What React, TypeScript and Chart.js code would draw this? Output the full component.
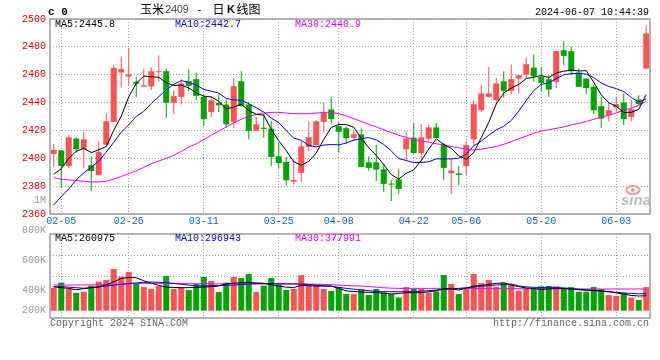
import React, { useEffect, useRef } from 'react';
import { Chart, registerables } from 'chart.js';

Chart.register(...registerables);

// ---------------- data ----------------
const dates = ['02-02','02-05','02-06','02-07','02-08','02-19','02-20','02-21','02-22','02-23','02-26','02-27','02-28','02-29','03-01','03-04','03-05','03-06','03-07','03-08','03-11','03-12','03-13','03-14','03-15','03-18','03-19','03-20','03-21','03-22','03-25','03-26','03-27','03-28','03-29','04-01','04-02','04-03','04-08','04-09','04-10','04-11','04-12','04-15','04-16','04-17','04-18','04-19','04-22','04-23','04-24','04-25','04-26','04-29','04-30','05-06','05-07','05-08','05-09','05-10','05-13','05-14','05-15','05-16','05-17','05-20','05-21','05-22','05-23','05-24','05-27','05-28','05-29','05-30','05-31','06-03','06-04','06-05','06-06','06-07'];

const tickDates = ['02-05','02-26','03-11','03-25','04-08','04-22','05-06','05-20','06-03'];

const open = [2403.1,2405.7,2394.5,2414.1,2406.5,2395.0,2387.9,2409.8,2426.1,2461.6,2458.7,2455.0,2451.5,2451.6,2461.8,2462.5,2439.8,2444.1,2455.3,2456.8,2444.1,2433.3,2439.8,2438.6,2426.1,2455.3,2438.6,2419.7,2422.0,2421.3,2401.4,2397.4,2383.2,2389.5,2408.1,2409.4,2426.1,2435.0,2423.0,2421.6,2414.8,2417.2,2397.1,2397.1,2392.1,2381.8,2384.9,2406.5,2414.8,2403.8,2414.1,2422.2,2409.8,2389.3,2389.0,2394.3,2413.6,2434.5,2444.1,2441.7,2455.3,2448.4,2457.2,2460.1,2465.1,2458.4,2456.8,2454.9,2477.6,2476.9,2461.6,2457.2,2451.3,2437.4,2430.9,2436.4,2440.0,2429.7,2442.2,2464.4];
const high = [2410.5,2406.0,2416.5,2415.1,2418.9,2401.4,2412.2,2432.3,2466.8,2472.8,2479.3,2458.5,2464.2,2465.5,2473.8,2464.4,2448.9,2456.8,2464.0,2461.6,2445.8,2444.6,2446.0,2442.2,2457.7,2462.5,2440.0,2429.7,2431.9,2426.6,2411.0,2401.0,2399.3,2412.2,2426.6,2427.3,2440.0,2444.1,2426.0,2423.0,2420.1,2421.3,2401.4,2409.8,2396.1,2384.2,2392.1,2419.4,2425.4,2424.4,2424.2,2425.4,2411.0,2399.6,2394.3,2412.2,2441.7,2452.5,2465.6,2457.7,2462.5,2467.3,2460.0,2472.1,2474.7,2465.1,2459.6,2477.0,2484.1,2480.0,2464.4,2457.5,2452.5,2444.1,2440.0,2444.1,2446.5,2441.7,2445.3,2495.6];
const low = [2393.8,2378.7,2393.1,2404.1,2393.1,2376.5,2387.9,2409.4,2426.0,2451.3,2452.3,2444.0,2451.3,2449.0,2454.6,2429.0,2431.6,2438.6,2448.0,2441.7,2423.2,2429.7,2433.3,2421.8,2421.8,2436.9,2413.6,2419.7,2414.6,2394.5,2392.6,2380.6,2381.1,2383.0,2405.0,2409.4,2418.5,2425.0,2404.0,2410.0,2412.2,2393.8,2391.0,2383.7,2375.8,2369.4,2374.6,2398.6,2403.3,2397.4,2412.2,2414.6,2384.2,2374.5,2380.6,2388.2,2408.9,2433.3,2443.4,2438.8,2443.6,2446.0,2446.5,2457.2,2454.9,2448.1,2444.1,2450.5,2466.8,2459.6,2451.3,2446.0,2431.6,2421.8,2426.8,2433.3,2423.7,2426.6,2438.1,2464.4];
const close = [2406.0,2394.5,2415.1,2406.5,2413.6,2390.9,2404.6,2426.6,2464.9,2464.0,2460.2,2453.5,2452.5,2462.5,2462.3,2439.8,2444.6,2453.7,2452.0,2444.8,2428.1,2441.7,2438.1,2424.4,2451.7,2437.6,2419.7,2424.4,2421.1,2401.0,2396.6,2384.2,2384.4,2408.6,2415.1,2426.6,2432.8,2428.1,2419.0,2414.4,2417.2,2393.8,2393.1,2391.9,2381.6,2381.1,2378.0,2414.1,2403.8,2415.1,2422.2,2414.6,2393.1,2391.2,2388.0,2409.4,2438.8,2446.5,2446.5,2453.7,2448.4,2456.8,2459.6,2467.5,2458.9,2454.1,2449.3,2476.9,2473.5,2462.5,2451.3,2450.5,2434.5,2428.5,2434.5,2438.8,2428.1,2435.2,2438.8,2489.6];

const ma5 = [2388.5,2392.5,2400.0,2405.0,2407.1,2404.1,2406.1,2408.4,2420.1,2430.2,2444.1,2453.8,2459.0,2458.5,2458.2,2454.1,2452.3,2452.6,2450.5,2447.0,2444.6,2444.1,2440.9,2435.4,2436.8,2438.7,2434.3,2431.6,2430.9,2420.8,2412.6,2405.5,2397.5,2395.0,2397.8,2403.8,2413.5,2422.2,2424.3,2424.2,2422.3,2414.5,2407.5,2402.1,2395.5,2388.3,2385.1,2389.3,2391.7,2398.4,2406.6,2414.0,2409.8,2407.2,2401.8,2399.3,2404.1,2414.8,2425.8,2439.0,2446.8,2450.4,2453.0,2457.2,2458.2,2459.4,2457.9,2461.3,2462.5,2463.3,2462.7,2462.9,2454.5,2445.5,2439.9,2437.4,2432.9,2433.0,2435.1,2445.8];
const ma10 = [2366.5,2372.5,2378.0,2384.5,2389.5,2393.5,2398.0,2404.5,2411.5,2418.7,2424.1,2430.0,2433.7,2439.3,2444.2,2449.1,2453.1,2455.8,2454.5,2452.6,2449.4,2448.2,2446.8,2443.0,2441.9,2441.7,2439.2,2436.3,2433.2,2428.8,2425.6,2419.9,2414.5,2412.9,2409.3,2408.2,2409.5,2409.9,2409.6,2411.0,2413.0,2414.0,2414.9,2413.2,2409.9,2405.3,2399.8,2398.4,2396.9,2397.0,2397.5,2399.6,2399.6,2399.5,2400.1,2403.0,2409.0,2412.3,2416.5,2420.4,2423.0,2427.2,2433.9,2441.5,2448.6,2453.1,2454.1,2457.2,2459.9,2460.8,2461.0,2460.4,2457.9,2454.0,2451.6,2450.0,2447.9,2443.7,2440.3,2442.7];
const ma30 = [2386,2385,2384.5,2384,2383.5,2383,2383,2383.5,2385,2387,2389,2391,2393.5,2396,2398,2400,2402,2405,2408,2410.5,2413.5,2416.5,2419.5,2422.5,2425.5,2428,2430,2431.5,2432.5,2433,2433,2432.5,2432,2432,2432,2432.5,2433,2433,2432,2430.5,2428.5,2426.5,2424.5,2422.5,2420.5,2418.5,2416.5,2415,2413.5,2412.5,2411.5,2410.5,2409.5,2408.5,2407.5,2406.5,2406,2406.5,2407.5,2408.5,2410,2412,2414,2416,2418,2419.5,2420.5,2421.5,2422.5,2424,2425,2426.5,2428,2429.5,2431,2432.5,2434.5,2436,2438,2440.9];

// volume, in thousands of lots
const volumeK = [401,488,378,308,331,436,505,534,726,592,674,476,412,378,430,604,378,412,360,465,587,517,325,488,587,569,639,325,436,569,459,360,378,621,436,441,378,343,412,290,290,372,273,378,319,290,227,412,378,383,314,337,621,465,290,378,639,482,534,418,482,459,348,389,383,424,430,424,401,412,331,331,412,378,273,256,314,227,186,412];
const vma5K = [418,400,389,365,385,400,415,450,505,560,580,575,520,480,440,410,405,400,402,405,412,420,430,470,480,488,490,485,476,450,430,410,405,440,435,430,428,430,389,345,335,325,320,315,305,292,300,314,314,314,330,348,385,380,360,395,430,440,460,475,488,445,420,395,385,372,380,389,385,377,365,355,350,340,331,310,290,265,256,260.975];
const vma10K = [418,418,410,400,392,400,415,430,445,460,472,485,495,499,495,488,476,460,445,432,432,437,440,444,447,455,465,472,476,474,470,468,466,465,455,445,435,425,405,389,375,362,350,335,331,331,331,331,331,340,348,360,370,380,389,400,412,425,438,447,456,465,430,415,406,406,406,406,395,385,375,365,355,345,331,320,310,300,295,296.943];
const vma30K = [447,447,447,448,449,450,452,455,460,465,470,474,476,476,476,475,474,473,472,471,470,469,468,468,467,467,466,466,466,465,465,465,465,465,464,462,458,452,445,438,433,430,420,410,400,392,389,389,389,389,389,389,388,388,387,387,386,386,385,385,384,384,383,383,382,382,381,381,380,380,379,379,379,378,378,378,378,378,378,377.991];

const volumeTickLabels = ['800K', '600K', '400K', '200K'];
const priceMin = 2360;
const priceMax = 2500;
const priceStep = 20;
const titleStamp = '2024-06-07 10:44:39';

// ---------------- styles ----------------
const RED = '#ff5252';
const GREEN = '#00a300';
const GRID = '#a0a0a0';
const FRAME = '#9c9c9c';
const MONO = '"Liberation Mono", "DejaVu Sans Mono", monospace';
const CJK = '"Noto Sans CJK SC", sans-serif';
const BLUE_LINE = '#0000ff';
const MAGENTA = '#ff00ff';

const candleColors = close.map((c, i) => (c >= open[i] ? RED : GREEN));

function dateTicks(scale: any) {
  scale.ticks = scale.ticks.filter((t: any) => tickDates.includes(dates[t.value]));
}

function txt(ctx: any, s: string, x: number, y: number, color: string, font: string, align = 'left') {
  ctx.fillStyle = color;
  ctx.font = font;
  ctx.textAlign = align;
  ctx.textBaseline = 'middle';
  ctx.fillText(s, x, y);
}

const framePlugin = {
  id: 'frame',
  afterDraw(chart: any) {
    const { ctx, chartArea: a } = chart;
    ctx.save();
    ctx.strokeStyle = FRAME;
    ctx.lineWidth = 1.5;
    ctx.strokeRect(a.left, a.top, a.right - a.left, a.bottom - a.top);
    ctx.restore();
  },
};

const priceTextPlugin = {
  id: 'priceText',
  afterDraw(chart: any) {
    const { ctx } = chart;
    const last = dates.length - 1;
    ctx.save();
    txt(ctx, 'c 0', 48, 12, '#000', `bold 11px ${MONO}`);
    txt(ctx, '玉米', 152, 9.5, '#000', `12px ${CJK}`, 'center');
    txt(ctx, '2409', 177, 10, '#444', `10.5px "Liberation Sans", sans-serif`, 'center');
    txt(ctx, '-', 199.5, 10, '#000', `10px ${MONO}`, 'center');
    txt(ctx, '日', 218.5, 9.5, '#000', `12px ${CJK}`, 'center');
    txt(ctx, 'K', 231, 10, '#000', `bold 11px "Liberation Sans", sans-serif`, 'center');
    txt(ctx, '线图', 248.5, 9.5, '#000', `12px ${CJK}`, 'center');
    txt(ctx, titleStamp, 649, 12, '#000', `10px ${MONO}`, 'right');
    txt(ctx, `MA5:${ma5[last].toFixed(1)}`, 55, 24, '#000', `10px ${MONO}`);
    txt(ctx, `MA10:${ma10[last].toFixed(1)}`, 175, 24, BLUE_LINE, `10px ${MONO}`);
    txt(ctx, `MA30:${ma30[last].toFixed(1)}`, 295, 24, MAGENTA, `10px ${MONO}`);
    txt(ctx, '1M', 46, 200, '#999', `10px ${MONO}`, 'right');
    // sina watermark
    ctx.strokeStyle = '#ef9a9a';
    ctx.lineWidth = 2;
    ctx.beginPath();
    ctx.ellipse(633, 190, 6.5, 4, 0, 0, Math.PI * 2);
    ctx.stroke();
    ctx.fillStyle = '#ef9a9a';
    ctx.beginPath();
    ctx.arc(633, 190, 2, 0, Math.PI * 2);
    ctx.fill();
    txt(ctx, 'sina', 636, 201, '#bdbdbd', `italic bold 15px "Liberation Sans", sans-serif`, 'center');
    ctx.restore();
  },
};

const volGridPlugin = {
  id: 'volGrid',
  beforeDatasetsDraw(chart: any) {
    const { ctx, chartArea: a } = chart;
    ctx.save();
    ctx.strokeStyle = GRID;
    ctx.lineWidth = 1;
    ctx.setLineDash([1, 2]);
    const h = a.bottom - a.top;
    for (let q = 1; q < 4; q++) {
      const y = Math.round(a.top + (h * q) / 4) + 0.5;
      ctx.beginPath();
      ctx.moveTo(a.left, y);
      ctx.lineTo(a.right, y);
      ctx.stroke();
    }
    ctx.restore();
  },
};

const volLabelOffsets = [-3.5, 26.5, 56.5, 76.5];

const volTextPlugin = {
  id: 'volText',
  afterDraw(chart: any) {
    const { ctx, chartArea: a } = chart;
    const last = dates.length - 1;
    ctx.save();
    volumeTickLabels.forEach((l, i) => txt(ctx, l, 46, a.top + volLabelOffsets[i], '#999', `10px ${MONO}`, 'right'));
    txt(ctx, `MA5:${Math.round(vma5K[last] * 1000)}`, 55, 238.5, '#000', `10px ${MONO}`);
    txt(ctx, `MA10:${Math.round(vma10K[last] * 1000)}`, 175, 238.5, BLUE_LINE, `10px ${MONO}`);
    txt(ctx, `MA30:${Math.round(vma30K[last] * 1000)}`, 295, 238.5, MAGENTA, `10px ${MONO}`);
    txt(ctx, 'Copyright 2024 SINA.COM', 50, 323.5, '#666', `10px ${MONO}`);
    txt(ctx, 'http://finance.sina.com.cn', 649, 323.5, '#666', `10px ${MONO}`, 'right');
    ctx.restore();
  },
};

function lineDs(data: number[], color: string, order: number) {
  return {
    type: 'line',
    data,
    borderColor: color,
    borderWidth: 1,
    pointRadius: 0,
    tension: 0,
    fill: false,
    order,
  };
}

function priceConfig(): any {
  return {
    type: 'bar',
    data: {
      labels: dates,
      datasets: [
        {
          type: 'bar',
          data: dates.map((_, i) => [low[i], high[i]]),
          backgroundColor: candleColors,
          borderWidth: 0,
          barThickness: 1,
          grouped: false,
          inflateAmount: 0,
          order: 5,
        },
        {
          type: 'bar',
          data: dates.map((_, i) => [open[i], close[i]]),
          backgroundColor: candleColors,
          borderWidth: 0,
          barThickness: 6,
          minBarLength: 1,
          grouped: false,
          inflateAmount: 0,
          order: 4,
        },
        lineDs(ma30, MAGENTA, 3),
        lineDs(ma10, BLUE_LINE, 2),
        lineDs(ma5, '#000', 1),
      ],
    },
    options: {
      animation: false,
      responsive: false,
      maintainAspectRatio: false,
      events: [],
      layout: { padding: { left: 0, right: 10, top: 19, bottom: 134 } },
      plugins: { legend: { display: false }, tooltip: { enabled: false } },
      scales: {
        x: {
          type: 'category',
          offset: true,
          grid: { offset: false, color: GRID, lineWidth: 1, drawTicks: false },
          border: { display: false, dash: [1, 2] },
          ticks: {
            autoSkip: false,
            maxRotation: 0,
            minRotation: 0,
            padding: 1,
            color: '#0a6ad0',
            font: { family: MONO, size: 10 },
          },
          afterBuildTicks: dateTicks,
          afterFit: (s: any) => {
            s.height = 12;
          },
        },
        y: {
          type: 'linear',
          min: priceMin,
          max: priceMax,
          ticks: {
            stepSize: priceStep,
            color: '#e80000',
            padding: 4,
            font: { family: MONO, size: 10 },
            callback: (v: any) => String(v),
          },
          grid: { color: GRID, lineWidth: 1, drawTicks: false },
          border: { display: false, dash: [1, 2] },
          afterFit: (s: any) => {
            s.width = 50;
          },
        },
      },
    },
    plugins: [framePlugin, priceTextPlugin],
  };
}

function volConfig(): any {
  return {
    type: 'bar',
    data: {
      labels: dates,
      datasets: [
        {
          type: 'bar',
          data: volumeK,
          backgroundColor: candleColors,
          borderWidth: 0,
          barThickness: 6,
          inflateAmount: 0,
          order: 4,
        },
        lineDs(vma30K, MAGENTA, 3),
        lineDs(vma10K, BLUE_LINE, 2),
        lineDs(vma5K, '#000', 1),
      ],
    },
    options: {
      animation: false,
      responsive: false,
      maintainAspectRatio: false,
      events: [],
      layout: { padding: { left: 0, right: 10, top: 234, bottom: 42 } },
      plugins: { legend: { display: false }, tooltip: { enabled: false } },
      scales: {
        x: {
          type: 'category',
          offset: true,
          grid: { offset: false, color: GRID, lineWidth: 1, drawTicks: false },
          border: { display: false, dash: [1, 2] },
          ticks: { display: false },
          afterBuildTicks: dateTicks,
          afterFit: (s: any) => {
            s.height = 0;
          },
        },
        y: {
          type: 'linear',
          min: -127,
          max: 1336,
          ticks: { display: false },
          grid: { display: false },
          border: { display: false },
          afterFit: (s: any) => {
            s.width = 50;
          },
        },
      },
    },
    plugins: [volGridPlugin, framePlugin, volTextPlugin],
  };
}

export default function App() {
  const priceRef = useRef<HTMLCanvasElement>(null);
  const volRef = useRef<HTMLCanvasElement>(null);
  useEffect(() => {
    const pc = new Chart(priceRef.current as any, priceConfig());
    const vc = new Chart(volRef.current as any, volConfig());
    return () => {
      pc.destroy();
      vc.destroy();
    };
  }, []);
  return (
    <div style={{ position: 'fixed', left: 0, top: 0, width: 660, height: 360, background: '#fff' }}>
      <canvas ref={priceRef} width={660} height={360} style={{ position: 'absolute', left: 0, top: 0 }} />
      <canvas ref={volRef} width={660} height={360} style={{ position: 'absolute', left: 0, top: 0 }} />
    </div>
  );
}
